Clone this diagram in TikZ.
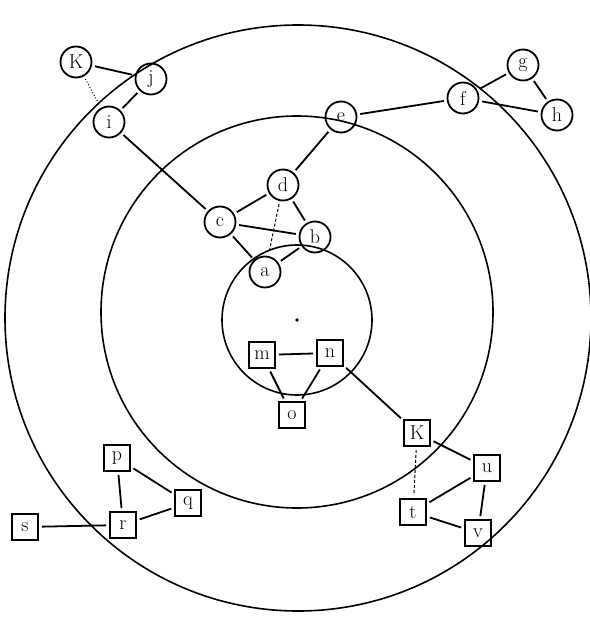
\documentclass[tikz,border=0pt]{standalone}
\begin{document}
\begin{tikzpicture}[x=1pt,y=-1pt,
  every node/.style={font=\fontsize{20}{20}\selectfont},
  cnode/.style={draw,circle,line width=1.8pt,minimum size=31pt,inner sep=0pt},
  snode/.style={draw,rectangle,line width=1.8pt,minimum size=26pt,inner sep=0pt},
  ring/.style={line width=1.6pt},
  link/.style={line width=1.8pt,shorten >=3pt,shorten <=3pt},
  weak/.style={line width=1pt,densely dashed,shorten >=3pt,shorten <=3pt},
  faint/.style={line width=1pt,dotted,shorten >=3pt,shorten <=3pt}]
  \useasboundingbox (0,0) rectangle (589,620);
  % rings
  \draw[ring] (297,320) circle (75);
  \draw[ring] (297,312) circle (196);
  \draw[ring] (298,318) circle (293);
  \fill (297,320) circle (1.8);
  % round nodes
  \node[cnode] (K) at (76,62) {K};
  \node[cnode] (j) at (151,79) {j};
  \node[cnode] (i) at (109,122) {i};
  \node[cnode] (e) at (341,117) {e};
  \node[cnode] (f) at (463,98) {f};
  \node[cnode] (g) at (523,65) {g};
  \node[cnode] (h) at (557,115) {h};
  \node[cnode] (d) at (283,185) {d};
  \node[cnode] (c) at (220,222) {c};
  \node[cnode] (b) at (315,237) {b};
  \node[cnode] (a) at (265,272) {a};
  % square nodes
  \node[snode] (m) at (262,355) {m};
  \node[snode] (n) at (330,353) {n};
  \node[snode] (o) at (292,415) {o};
  \node[snode] (k) at (417,433) {K};
  \node[snode] (u) at (487,468) {u};
  \node[snode] (t) at (413,512) {t};
  \node[snode] (v) at (478,533) {v};
  \node[snode] (p) at (117,458) {p};
  \node[snode] (q) at (188,503) {q};
  \node[snode] (r) at (123,525) {r};
  \node[snode] (s) at (25,527) {s};
  % links
  \foreach \u/\v in {K/j,j/i,i/c,e/d,e/f,f/g,f/h,g/h,c/d,c/b,c/a,d/b,a/b,
                     m/n,m/o,n/o,n/k,k/u,u/t,u/v,t/v,p/r,p/q,q/r,r/s}
    \draw[link] (\u) -- (\v);
  \foreach \u/\v in {d/a,k/t}
    \draw[weak] (\u) -- (\v);
  \draw[faint] (K) -- (i);
\end{tikzpicture}
\end{document}
